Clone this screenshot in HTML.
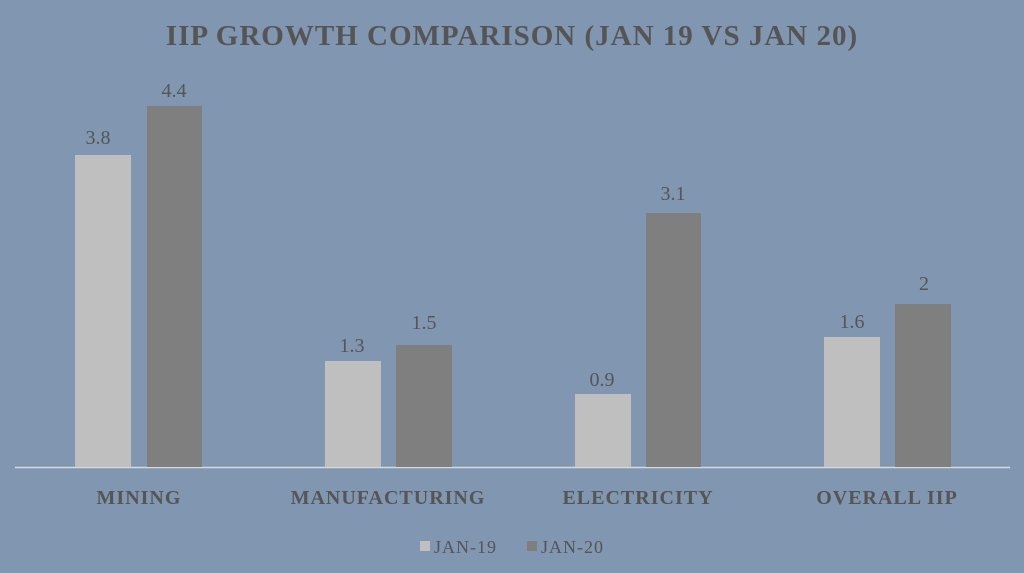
<!DOCTYPE html>
<html><head><style>
body{margin:0;width:1024px;height:568px;background:#8196b0;overflow:hidden}
svg text{font-family:"Liberation Serif",serif;fill:#555}
</style></head><body>
<svg width="1024" height="568" xmlns="http://www.w3.org/2000/svg">
<rect width="1024" height="568" fill="#8196b0"/>
<text x="512" y="45" text-anchor="middle" font-size="29" font-weight="bold" letter-spacing="1" fill="#5a5a5a">IIP GROWTH COMPARISON (JAN 19 VS JAN 20)</text>
<line x1="15" y1="467.5" x2="1010" y2="467.5" stroke="#d9d9d9" stroke-width="1.5"/>
<g fill="#bfbfbf">
<rect x="75" y="155" width="56" height="312"/>
<rect x="325" y="361" width="56" height="106"/>
<rect x="575" y="394" width="56" height="73"/>
<rect x="824" y="337" width="56" height="130"/>
</g>
<g fill="#7f7f7f">
<rect x="147" y="106" width="55" height="361"/>
<rect x="396" y="345" width="56" height="122"/>
<rect x="646" y="213" width="55" height="254"/>
<rect x="895" y="304" width="56" height="163"/>
</g>
<g font-size="20" text-anchor="middle">
<text x="98" y="144" fill="#404040">3.8</text>
<text x="174" y="97" fill="#404040">4.4</text>
<text x="352" y="352" fill="#404040">1.3</text>
<text x="424" y="329" fill="#404040">1.5</text>
<text x="602" y="386" fill="#404040">0.9</text>
<text x="673" y="200" fill="#404040">3.1</text>
<text x="852" y="328" fill="#404040">1.6</text>
<text x="924" y="290" fill="#404040">2</text>
</g>
<g font-size="20" text-anchor="middle" font-weight="bold" letter-spacing="1">
<text x="139" y="504">MINING</text>
<text x="388" y="504">MANUFACTURING</text>
<text x="638" y="504">ELECTRICITY</text>
<text x="887" y="504">OVERALL IIP</text>
</g>
<rect x="420" y="541" width="10" height="10" fill="#bfbfbf"/>
<text x="434" y="553" font-size="18" letter-spacing="1">JAN-19</text>
<rect x="527" y="541" width="10" height="10" fill="#7f7f7f"/>
<text x="541" y="553" font-size="18" letter-spacing="1">JAN-20</text>
</svg>
</body></html>
